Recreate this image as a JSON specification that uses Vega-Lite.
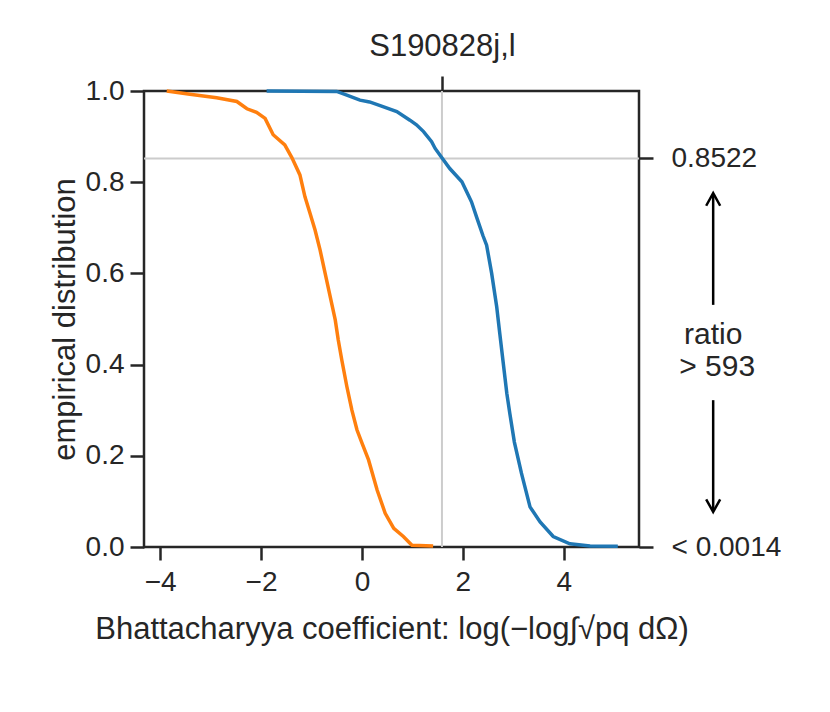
{
  "$schema": "https://vega.github.io/schema/vega-lite/v6.json",
  "width": 495,
  "height": 456,
  "autosize": {"type": "none"},
  "padding": {"left": 144, "top": 91, "right": 191, "bottom": 165},
  "background": "white",
  "config": {
    "font": "Liberation Sans",
    "view": {"stroke": "#262626", "strokeWidth": 2.5},
    "axis": {
      "domain": false,
      "grid": false,
      "tickColor": "#262626",
      "tickWidth": 2.5,
      "tickSize": 14,
      "labelColor": "#262626",
      "labelFont": "Liberation Sans",
      "labelFontSize": 28,
      "titleFont": "Liberation Sans",
      "titleFontSize": 31,
      "titleFontWeight": "normal",
      "titleColor": "#262626"
    }
  },
  "datasets": {
    "curves": [
      {"series": "blue", "x": -1.89, "y": 1.0},
      {"series": "blue", "x": -0.50, "y": 0.999},
      {"series": "blue", "x": -0.30, "y": 0.991},
      {"series": "blue", "x": -0.04, "y": 0.980},
      {"series": "blue", "x": 0.15, "y": 0.976},
      {"series": "blue", "x": 0.36, "y": 0.968},
      {"series": "blue", "x": 0.69, "y": 0.955},
      {"series": "blue", "x": 0.95, "y": 0.936},
      {"series": "blue", "x": 1.08, "y": 0.926},
      {"series": "blue", "x": 1.22, "y": 0.911},
      {"series": "blue", "x": 1.38, "y": 0.889},
      {"series": "blue", "x": 1.45, "y": 0.874},
      {"series": "blue", "x": 1.58, "y": 0.854},
      {"series": "blue", "x": 1.74, "y": 0.830},
      {"series": "blue", "x": 1.98, "y": 0.801},
      {"series": "blue", "x": 2.07, "y": 0.780},
      {"series": "blue", "x": 2.17, "y": 0.757},
      {"series": "blue", "x": 2.27, "y": 0.724},
      {"series": "blue", "x": 2.40, "y": 0.682},
      {"series": "blue", "x": 2.47, "y": 0.662},
      {"series": "blue", "x": 2.57, "y": 0.600},
      {"series": "blue", "x": 2.67, "y": 0.527},
      {"series": "blue", "x": 2.73, "y": 0.469},
      {"series": "blue", "x": 2.80, "y": 0.403},
      {"series": "blue", "x": 2.87, "y": 0.337},
      {"series": "blue", "x": 2.93, "y": 0.293},
      {"series": "blue", "x": 3.02, "y": 0.230},
      {"series": "blue", "x": 3.16, "y": 0.162},
      {"series": "blue", "x": 3.33, "y": 0.088},
      {"series": "blue", "x": 3.53, "y": 0.055},
      {"series": "blue", "x": 3.79, "y": 0.023},
      {"series": "blue", "x": 4.12, "y": 0.007},
      {"series": "blue", "x": 4.52, "y": 0.002},
      {"series": "blue", "x": 5.07, "y": 0.0015},
      {"series": "orange", "x": -3.87, "y": 1.0},
      {"series": "orange", "x": -3.41, "y": 0.993},
      {"series": "orange", "x": -2.88, "y": 0.985},
      {"series": "orange", "x": -2.48, "y": 0.977},
      {"series": "orange", "x": -2.28, "y": 0.961},
      {"series": "orange", "x": -2.09, "y": 0.953},
      {"series": "orange", "x": -1.92, "y": 0.940},
      {"series": "orange", "x": -1.76, "y": 0.904},
      {"series": "orange", "x": -1.53, "y": 0.882},
      {"series": "orange", "x": -1.39, "y": 0.854},
      {"series": "orange", "x": -1.23, "y": 0.816},
      {"series": "orange", "x": -1.13, "y": 0.768},
      {"series": "orange", "x": -1.03, "y": 0.732},
      {"series": "orange", "x": -0.93, "y": 0.695},
      {"series": "orange", "x": -0.83, "y": 0.651},
      {"series": "orange", "x": -0.73, "y": 0.600},
      {"series": "orange", "x": -0.63, "y": 0.549},
      {"series": "orange", "x": -0.53, "y": 0.498},
      {"series": "orange", "x": -0.47, "y": 0.454},
      {"series": "orange", "x": -0.40, "y": 0.410},
      {"series": "orange", "x": -0.30, "y": 0.352},
      {"series": "orange", "x": -0.20, "y": 0.300},
      {"series": "orange", "x": -0.10, "y": 0.257},
      {"series": "orange", "x": 0.01, "y": 0.225},
      {"series": "orange", "x": 0.13, "y": 0.191},
      {"series": "orange", "x": 0.30, "y": 0.125},
      {"series": "orange", "x": 0.46, "y": 0.074},
      {"series": "orange", "x": 0.63, "y": 0.041},
      {"series": "orange", "x": 0.82, "y": 0.023},
      {"series": "orange", "x": 0.99, "y": 0.004},
      {"series": "orange", "x": 1.41, "y": 0.002}
    ],
    "shafts": [
      {"x": 6.96, "y": 0.531, "y2": 0.772},
      {"x": 6.96, "y": 0.322, "y2": 0.081}
    ],
    "heads": [
      {"x": 6.96, "y": 0.776, "dir": "up"},
      {"x": 6.96, "y": 0.077, "dir": "down"}
    ],
    "notes": [
      {"x": 6.96, "y": 0.465, "label": "ratio"},
      {"x": 7.04, "y": 0.395, "label": "> 593"}
    ]
  },
  "resolve": {"axis": {"x": "independent", "y": "independent"}},
  "layer": [
    {
      "data": {"values": [{"y": 0.8522}]},
      "mark": {"type": "rule", "color": "#cccccc", "strokeWidth": 2},
      "encoding": {
        "y": {
          "field": "y", "type": "quantitative",
          "scale": {"domain": [0, 1], "nice": false, "zero": false},
          "axis": {
            "orient": "right", "title": null,
            "values": [0, 0.8522],
            "labelExpr": "datum.value > 0.5 ? '0.8522' : '< 0.0014'",
            "labelPadding": 18
          }
        }
      }
    },
    {
      "data": {"values": [{"x": 1.585}]},
      "mark": {"type": "rule", "color": "#cccccc", "strokeWidth": 2},
      "encoding": {
        "x": {
          "field": "x", "type": "quantitative",
          "scale": {"domain": [-4.32, 5.49], "nice": false, "zero": false},
          "axis": {
            "orient": "top", "title": null,
            "values": [1.585],
            "labelExpr": "'S190828j,l'",
            "labelFontSize": 31,
            "tickSize": 15,
            "labelPadding": 14
          }
        }
      }
    },
    {
      "data": {"name": "curves"},
      "mark": {"type": "line", "strokeWidth": 3.5, "interpolate": "linear"},
      "encoding": {
        "x": {
          "field": "x", "type": "quantitative",
          "scale": {"domain": [-4.32, 5.49], "nice": false, "zero": false},
          "axis": {
            "orient": "bottom",
            "title": "Bhattacharyya coefficient: log(−log∫√pq dΩ)",
            "values": [-4, -2, 0, 2, 4],
            "format": "d",
            "tickSize": 13,
            "labelPadding": 8,
            "titlePadding": 18
          }
        },
        "y": {
          "field": "y", "type": "quantitative",
          "scale": {"domain": [0, 1], "nice": false, "zero": false},
          "axis": {
            "orient": "left",
            "title": "empirical distribution",
            "values": [0, 0.2, 0.4, 0.6, 0.8, 1.0],
            "format": ".1f",
            "labelPadding": 6,
            "titlePadding": 4
          }
        },
        "color": {
          "field": "series", "type": "nominal",
          "scale": {"domain": ["blue", "orange"], "range": ["#1f77b4", "#ff7f0e"]},
          "legend": null
        }
      }
    },
    {
      "data": {"name": "shafts"},
      "mark": {"type": "rule", "color": "black", "strokeWidth": 2.5},
      "encoding": {
        "x": {"field": "x", "type": "quantitative", "scale": {"domain": [-4.32, 5.49], "nice": false, "zero": false}, "axis": null},
        "y": {"field": "y", "type": "quantitative", "scale": {"domain": [0, 1], "nice": false, "zero": false}, "axis": null},
        "y2": {"field": "y2"}
      }
    },
    {
      "data": {"name": "heads"},
      "mark": {"type": "point", "filled": false, "stroke": "black", "strokeWidth": 2.5, "size": 196, "opacity": 1},
      "encoding": {
        "x": {"field": "x", "type": "quantitative", "scale": {"domain": [-4.32, 5.49], "nice": false, "zero": false}, "axis": null},
        "y": {"field": "y", "type": "quantitative", "scale": {"domain": [0, 1], "nice": false, "zero": false}, "axis": null},
        "shape": {
          "field": "dir", "type": "nominal",
          "scale": {"domain": ["up", "down"], "range": ["M -1 1.8 L 0 0 L 1 1.8", "M -1 -1.8 L 0 0 L 1 -1.8"]},
          "legend": null
        }
      }
    },
    {
      "data": {"name": "notes"},
      "mark": {"type": "text", "fontSize": 30, "color": "#262626", "align": "center", "baseline": "middle", "font": "Liberation Sans"},
      "encoding": {
        "x": {"field": "x", "type": "quantitative", "scale": {"domain": [-4.32, 5.49], "nice": false, "zero": false}, "axis": null},
        "y": {"field": "y", "type": "quantitative", "scale": {"domain": [0, 1], "nice": false, "zero": false}, "axis": null},
        "text": {"field": "label"}
      }
    }
  ]
}
